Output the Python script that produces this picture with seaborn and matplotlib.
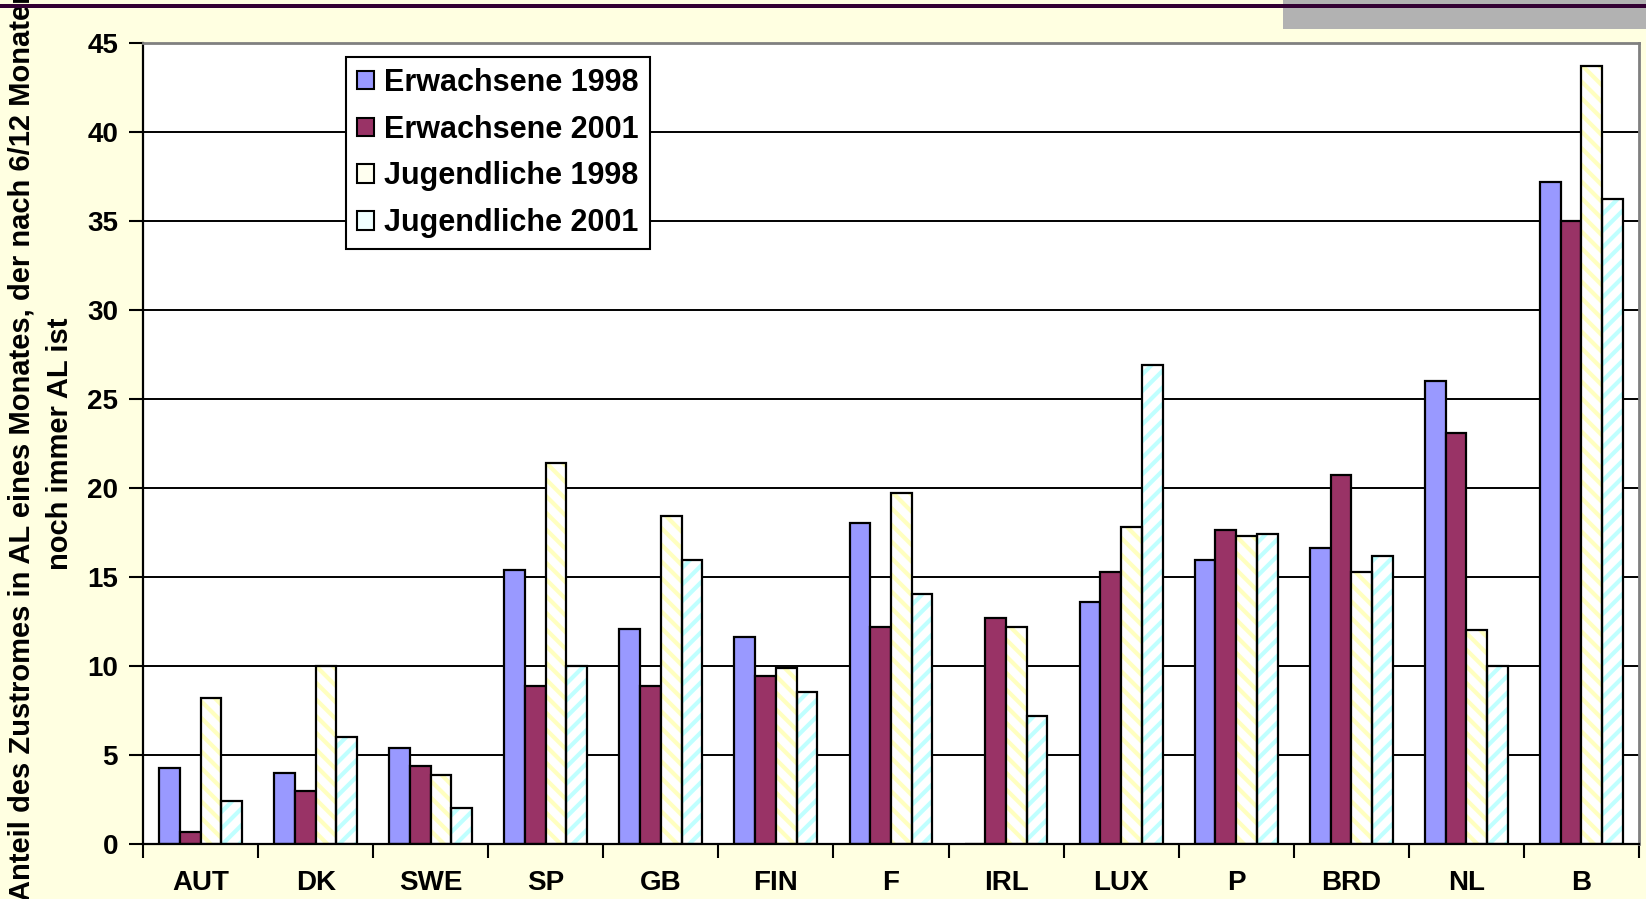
import seaborn as sns
import matplotlib.pyplot as plt
import pandas as pd
import numpy as np
from matplotlib.patches import Rectangle, Patch

laender = ['AUT', 'DK', 'SWE', 'SP', 'GB', 'FIN', 'F', 'IRL', 'LUX', 'P', 'BRD', 'NL', 'B']
erw_1998 = [4.25, 4.0, 5.4, 15.4, 12.1, 11.6, 18.0, 0.0, 13.6, 15.95, 16.65, 26.0, 37.15]
erw_2001 = [0.65, 2.95, 4.4, 8.9, 8.9, 9.45, 12.2, 12.7, 15.3, 17.65, 20.7, 23.1, 35.0]
jug_1998 = [8.2, 10.0, 3.9, 21.4, 18.4, 9.9, 19.7, 12.2, 17.8, 17.3, 15.25, 12.0, 43.7]
jug_2001 = [2.4, 6.0, 2.0, 10.0, 15.95, 8.55, 14.05, 7.2, 26.9, 17.4, 16.2, 10.0, 36.2]
gruppen = ['Erwachsene 1998', 'Erwachsene 2001', 'Jugendliche 1998', 'Jugendliche 2001']
yticks = list(range(0, 46, 5))

farben = ['#9999FF', '#993366', '#FFFFFF', '#FFFFFF']
hatch_farben = {2: '#FFFFC0', 3: '#C0FFFF'}
hatch_muster = {2: '\\\\', 3: '//'}

df = pd.DataFrame({
    'Land': laender * 4,
    'Gruppe': [g for g in gruppen for _ in laender],
    'Wert': erw_1998 + erw_2001 + jug_1998 + jug_2001,
})

sns.set_style('white')
plt.rcParams['font.family'] = ['Liberation Sans', 'DejaVu Sans']
plt.rcParams['font.weight'] = 'bold'
plt.rcParams['hatch.linewidth'] = 3.0
for k in ['text.color', 'axes.labelcolor', 'xtick.color', 'ytick.color']:
    plt.rcParams[k] = 'black'

fig = plt.figure(figsize=(16.46, 8.99), dpi=100, facecolor='#FFFFE1')
ax = fig.add_axes([0.0869, 0.0612, 0.9088, 0.8913])
ax.set_facecolor('white')

sns.barplot(data=df, x='Land', y='Wert', hue='Gruppe', hue_order=gruppen,
            palette=farben, saturation=1, width=0.72, edgecolor='black',
            linewidth=1.6, errorbar=None, legend=False, ax=ax)

# schraffierte Balken: Schraffur farbig, Rahmen schwarz
for i in (2, 3):
    for bar in ax.containers[i]:
        x, y = bar.get_xy()
        w, h = bar.get_width(), bar.get_height()
        bar.set_hatch(hatch_muster[i])
        bar.set_edgecolor(hatch_farben[i])
        bar.set_linewidth(0)
        ax.add_patch(Rectangle((x, y), w, h, fill=False, edgecolor='black',
                               lw=1.6, zorder=bar.get_zorder() + 0.1))

ax.set_ylim(0, 45)
ax.set_xlim(-0.5, len(laender) - 0.5)
ax.set_yticks(yticks)
ax.set_xticks(np.arange(-0.5, len(laender), 1), minor=True)
ax.yaxis.grid(True, color='black', lw=1.4)
ax.set_axisbelow(True)

ax.tick_params(axis='x', which='major', length=0, pad=19, labelsize=20)
ax.tick_params(axis='x', which='minor', length=10, width=1.5, color='black', direction='out', bottom=True)
ax.tick_params(axis='y', length=10, width=1.5, color='black', direction='out', left=True, pad=8, labelsize=20)
for lab in ax.get_xticklabels() + ax.get_yticklabels():
    lab.set_fontweight('bold')

for s in ['left', 'bottom']:
    ax.spines[s].set_color('black')
    ax.spines[s].set_linewidth(1.6)
for s in ['top', 'right']:
    ax.spines[s].set_color('#808080')
    ax.spines[s].set_linewidth(2)

ax.set_xlabel('')
ax.set_ylabel('Anteil des Zustromes in AL eines Monates, der nach 6/12 Monaten\nnoch immer AL ist',
              fontsize=21, fontweight='bold', linespacing=1.5)
ax.yaxis.set_label_coords(-0.046, 0.5)

handles = [Patch(facecolor=c, edgecolor='black', lw=1.5) for c in ['#9999FF', '#993366', '#FFFFF0', '#F0FFFF']]
leg = ax.legend(handles, gruppen, loc='upper left', bbox_to_anchor=(0.1357, 0.982),
                borderaxespad=0, fancybox=False, framealpha=1, edgecolor='black',
                prop={'size': 22, 'weight': 'bold'}, handlelength=0.55, handleheight=0.55,
                handletextpad=0.35, labelspacing=0.55, borderpad=0.35)
leg.get_frame().set_linewidth(1.5)

# Kopfzeile der Folie
fig.add_artist(Rectangle((1283 / 1646, 1 - 29 / 899), 1, 29 / 899, transform=fig.transFigure,
                         facecolor='#B2B2B2', edgecolor='none'))
fig.add_artist(Rectangle((0, 1 - 8 / 899), 1, 4 / 899, transform=fig.transFigure,
                         facecolor='#330033', edgecolor='none'))

fig.savefig('out.png', dpi=100, facecolor=fig.get_facecolor())
